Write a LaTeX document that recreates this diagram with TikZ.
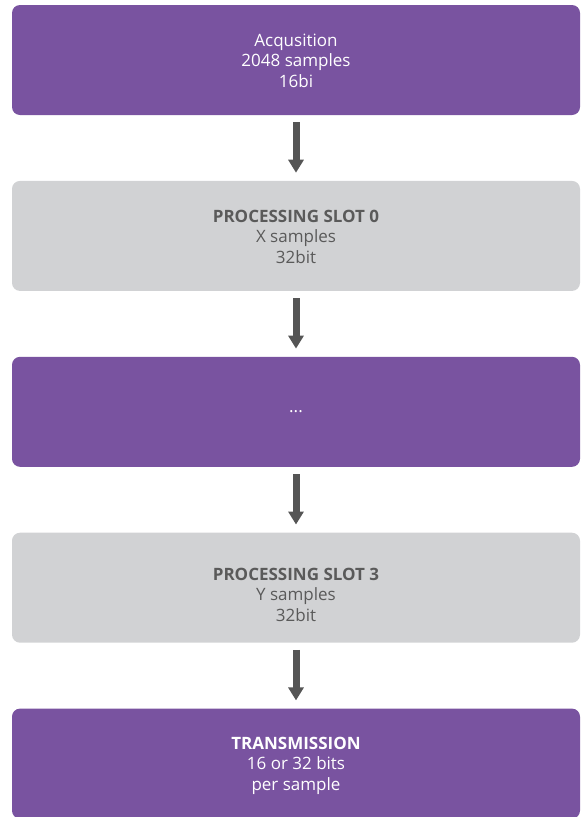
\documentclass[tikz,border=0pt]{standalone}
\usepackage{fontspec}
\setmainfont{Open Sans}
\usetikzlibrary{positioning,arrows.meta}
\definecolor{slotpurple}{HTML}{7953A0}
\definecolor{slotgrey}{HTML}{D1D2D4}
\definecolor{slottext}{HTML}{5A5A5A}
\definecolor{arrowgrey}{HTML}{555555}
\newcommand{\drop}[1]{\rule{0pt}{#1}}
\tikzset{
  stage/.style={rounded corners=8pt,minimum width=568pt,minimum height=110pt,
    align=center,font=\fontsize{17}{20.5}\selectfont,inner sep=0pt},
  purplebox/.style={stage,fill=slotpurple,text=white},
  greybox/.style={stage,fill=slotgrey,text=slottext},
  flow/.style={line width=7pt,arrowgrey,-{Triangle[width=15pt,length=13pt]},
    shorten <=7pt,shorten >=8pt}
}
\begin{document}
\begin{tikzpicture}[x=1pt,y=-1pt,node distance=65.5pt]
  \useasboundingbox (0,0) rectangle (581,817);
  %% stages
  \node[purplebox] (acq) at (296,60) {\drop{14pt}Acqusition\\2048 samples\\16bi};
  \node[greybox,below=of acq] (slot0) {\drop{14pt}\textbf{PROCESSING SLOT 0}\\X samples\\32bit};
  \node[purplebox,below=of slot0] (dots) {...};
  \node[greybox,below=of dots] (slot3) {\drop{26pt}\textbf{PROCESSING SLOT 3}\\Y samples\\32bit};
  \node[purplebox,below=of slot3] (trans) {\drop{16pt}\textbf{TRANSMISSION}\\16 or 32 bits\\per sample};
  %% arrows
  \foreach \a/\b in {acq/slot0,slot0/dots,dots/slot3,slot3/trans}
    \draw[flow] (\a) -- (\b);
\end{tikzpicture}
\end{document}
